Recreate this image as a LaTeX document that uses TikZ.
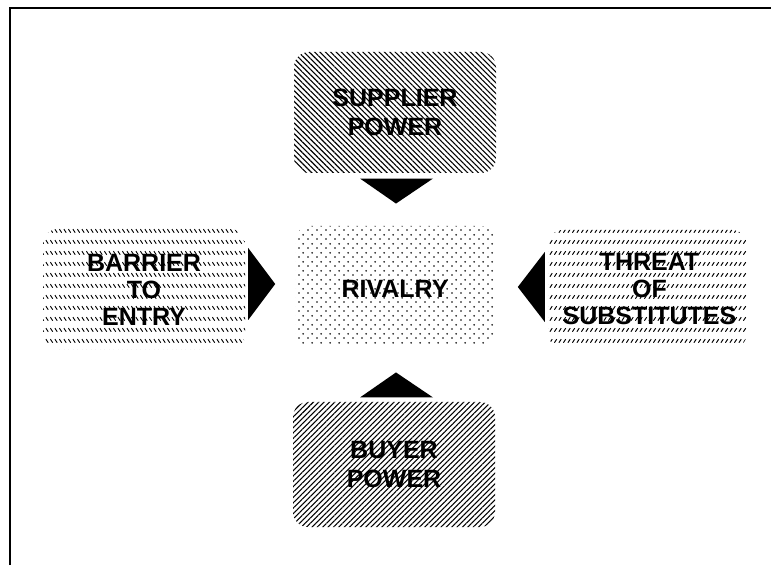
\documentclass[tikz,border=0pt]{standalone}
\usepackage{fontspec}
\setmainfont{Liberation Sans}
\usetikzlibrary{patterns.meta,calc}

% rows of short backslash strokes
\tikzdeclarepattern{
  name=BackRows,
  type=uncolored,
  bounding box={(-1pt,-1pt) and (5.5pt,12pt)},
  tile size={(4.5pt,11pt)},
  code={\draw[line width=0.95pt] (0.9pt,5.8pt) -- (3.2pt,2.3pt);}
}
% rows of short slash strokes
\tikzdeclarepattern{
  name=SlashRows,
  type=uncolored,
  bounding box={(-1pt,-1pt) and (5.5pt,12pt)},
  tile size={(4.5pt,11pt)},
  code={\draw[line width=0.95pt] (0.9pt,2.3pt) -- (3.2pt,5.8pt);}
}
% staggered dot grid
\tikzdeclarepattern{
  name=DotGrid,
  type=uncolored,
  bounding box={(0pt,0pt) and (9pt,9pt)},
  tile size={(9pt,9pt)},
  code={\fill (2.25pt,2.25pt) circle (1pt); \fill (6.75pt,6.75pt) circle (1pt);}
}

\tikzset{
  forcebox/.style={rounded corners=15pt, inner sep=0pt, draw=none},
  forcetext/.style={align=center, inner sep=0pt, text=black,
    font=\fontsize{25}{29}\selectfont\bfseries},
  tall/.style={font=\fontsize{25}{27}\selectfont\bfseries},
  headfill/.style={fill=black}
}

\begin{document}
\begin{tikzpicture}[x=1pt,y=1pt]
  \useasboundingbox (0,0) rectangle (771,565);
  \fill[white] (0,0) rectangle (771,565);

  % open frame: top and left edges
  \draw[line width=2.4pt] (10,0) -- (10,557) -- (771,557);

  % the five forces: patterned boxes
  \node[forcebox, minimum width=202pt, minimum height=121pt,
        pattern={Lines[angle=-45,distance=3.8pt,line width=1.1pt]}, pattern color=black]
        (sup) at (395,452.5) {};
  \node[forcebox, minimum width=200pt, minimum height=120pt,
        pattern=DotGrid, pattern color=black]
        (riv) at (395,279) {};
  \node[forcebox, minimum width=202pt, minimum height=121pt,
        pattern=BackRows, pattern color=black]
        (bar) at (144,275.5) {};
  \node[forcebox, minimum width=199pt, minimum height=118pt,
        pattern=SlashRows, pattern color=black]
        (thr) at (647.5,276) {};
  \node[forcebox, minimum width=202pt, minimum height=125pt,
        pattern={Lines[angle=45,distance=3.8pt,line width=1.1pt]}, pattern color=black]
        (buy) at (394,100.5) {};

  % their labels
  \node[forcetext] (supT) at (sup) {SUPPLIER\\POWER};
  \node[forcetext] (rivT) at ($(riv)+(0,-3)$) {RIVALRY};
  \node[forcetext, tall] (barT) at (bar) {BARRIER\\TO\\ENTRY};
  \node[forcetext, tall] (thrT) at ($(thr)+(2,0)$) {THREAT\\OF\\SUBSTITUTES};
  \node[forcetext] (buyT) at (buy) {BUYER\\POWER};

  % arrowheads pointing into the rivalry box
  \fill[headfill] ($(sup.south)+(-35,-5)$) -- ($(sup.south)+(38,-5)$) -- ($(sup.south)+(1,-30)$) -- cycle;
  \fill[headfill] ($(buy.north)+(-34,4)$) -- ($(buy.north)+(39,4)$) -- ($(buy.north)+(2,29)$) -- cycle;
  \fill[headfill] ($(bar.east)+(3,41.5)$) -- ($(bar.east)+(3,-30.5)$) -- ($(bar.east)+(30,5.5)$) -- cycle;
  \fill[headfill] ($(thr.west)+(-3,37)$) -- ($(thr.west)+(-3,-33)$) -- ($(thr.west)+(-30,2)$) -- cycle;
\end{tikzpicture}
\end{document}
